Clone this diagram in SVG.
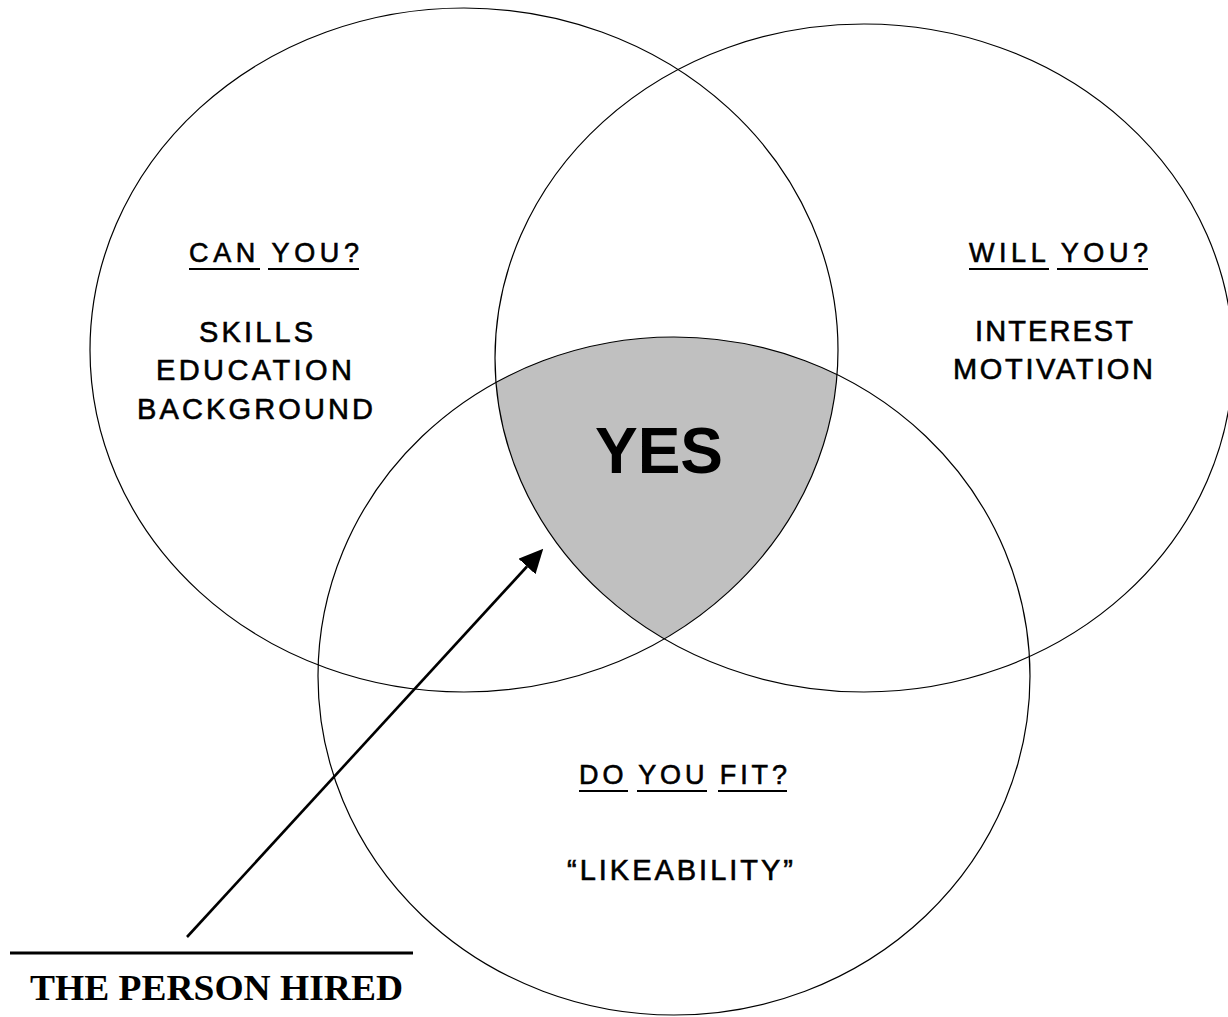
<svg xmlns="http://www.w3.org/2000/svg" width="1228" height="1017" viewBox="0 0 1228 1017">
<style>
.ring{fill:none;stroke:#000;stroke-width:1.2}
.t{font-family:"Liberation Sans",Arial,sans-serif;fill:#000;stroke:#000;stroke-width:0.6}
.h{font-size:27px}
.b{font-size:29px}
.ul{stroke:#000;stroke-width:2.2}
.conn{stroke:#000;stroke-width:2.6;fill:none}
</style>
<defs>
<clipPath id="clipL"><ellipse cx="464" cy="350" rx="374" ry="342"/></clipPath>
<clipPath id="clipR"><ellipse cx="864" cy="358" rx="369" ry="334"/></clipPath>
<marker id="ah" viewBox="0 0 24 23" refX="0" refY="11.5" markerWidth="24" markerHeight="23" markerUnits="userSpaceOnUse" orient="auto">
<path d="M0,0 L24,11.5 L0,23 z" fill="#000"/>
</marker>
</defs>
<rect width="1228" height="1017" fill="#fff"/>
<g id="overlap">
<g clip-path="url(#clipL)"><g clip-path="url(#clipR)"><ellipse cx="674" cy="676" rx="356" ry="339" fill="#c0c0c0"/></g></g>
<text class="t" x="659" y="473" font-size="64" font-weight="bold" text-anchor="middle" style="stroke-width:0">YES</text>
</g>
<g id="can-you">
<ellipse class="ring" cx="464" cy="350" rx="374" ry="342"/>
<text class="t h" x="189" y="262" textLength="170" lengthAdjust="spacing">CAN YOU?</text>
<line class="ul" x1="189" y1="269" x2="260" y2="269"/>
<line class="ul" x1="268" y1="269" x2="359" y2="269"/>
<text class="t b" x="199" y="342" textLength="114" lengthAdjust="spacing">SKILLS</text>
<text class="t b" x="156" y="380" textLength="196" lengthAdjust="spacing">EDUCATION</text>
<text class="t b" x="137" y="419" textLength="236" lengthAdjust="spacing">BACKGROUND</text>
</g>
<g id="will-you">
<ellipse class="ring" cx="864" cy="358" rx="369" ry="334"/>
<text class="t h" x="969" y="262" textLength="179" lengthAdjust="spacing">WILL YOU?</text>
<line class="ul" x1="969" y1="269" x2="1049" y2="269"/>
<line class="ul" x1="1057" y1="269" x2="1148" y2="269"/>
<text class="t b" x="975" y="341" textLength="158" lengthAdjust="spacing">INTEREST</text>
<text class="t b" x="953" y="379" textLength="200" lengthAdjust="spacing">MOTIVATION</text>
</g>
<g id="do-you-fit">
<ellipse class="ring" cx="674" cy="676" rx="356" ry="339"/>
<text class="t h" x="579" y="784" textLength="208" lengthAdjust="spacing">DO YOU FIT?</text>
<line class="ul" x1="579" y1="791" x2="628" y2="791"/>
<line class="ul" x1="637" y1="791" x2="707" y2="791"/>
<line class="ul" x1="718" y1="791" x2="787" y2="791"/>
<text class="t b" x="567" y="880" textLength="226" lengthAdjust="spacing">“LIKEABILITY”</text>
</g>
<g id="connectors">
<line class="conn" x1="187" y1="937" x2="527" y2="566.5" marker-end="url(#ah)"/>
</g>
<g id="person-hired">
<line x1="10" y1="953" x2="413" y2="953" stroke="#000" stroke-width="3"/>
<text x="30" y="1000" font-family="'Liberation Serif','Times New Roman',serif" font-weight="bold" font-size="35" textLength="373" lengthAdjust="spacingAndGlyphs">THE PERSON HIRED</text>
</g>
</svg>
